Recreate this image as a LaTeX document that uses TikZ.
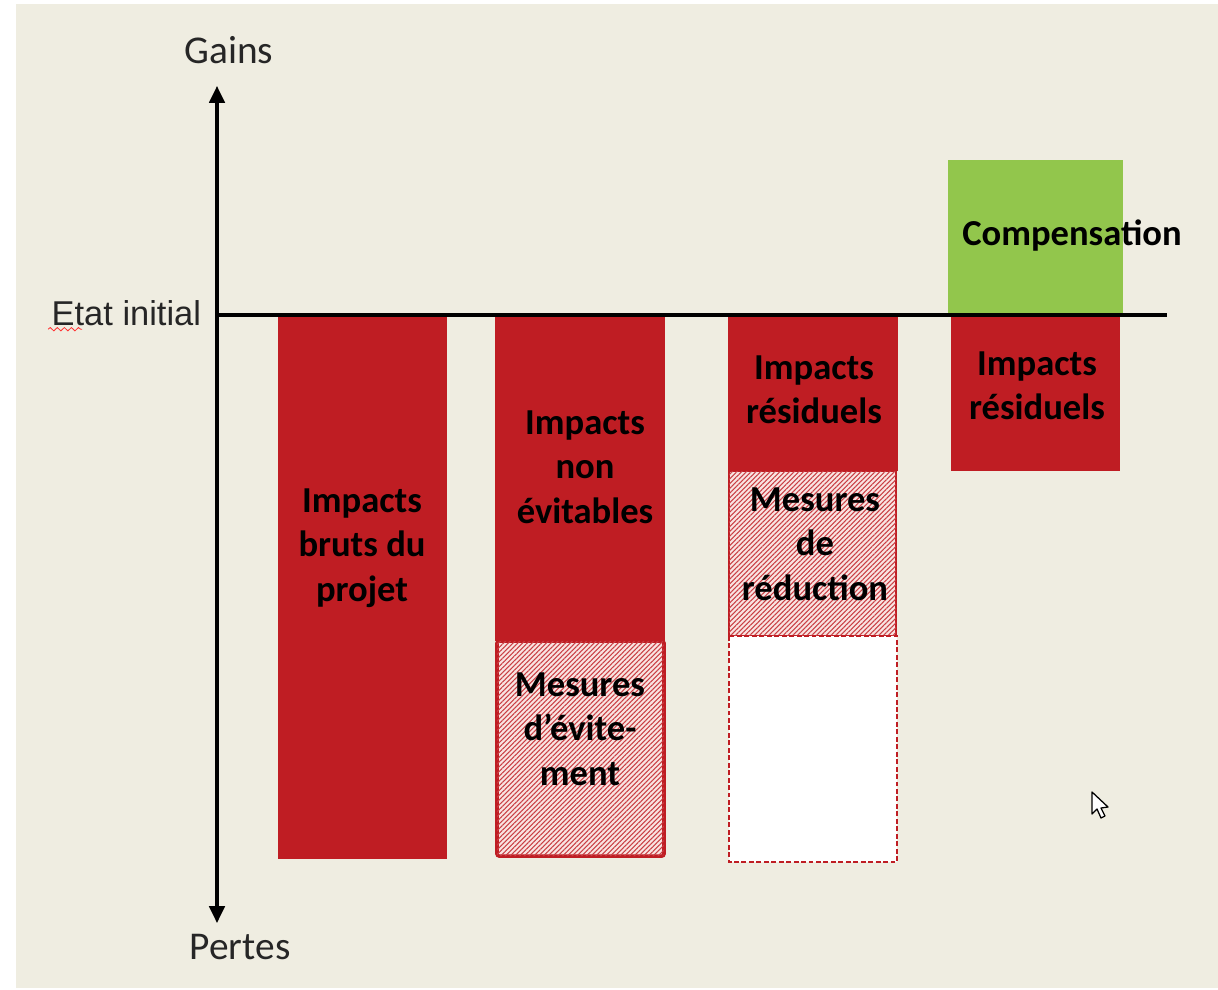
\documentclass[tikz,border=0pt]{standalone}
\usepackage{fontspec}
\setmainfont{Carlito}
\newfontfamily\arialfont{Liberation Sans}
\usepackage{xcolor}
\usetikzlibrary{arrows.meta,patterns.meta,decorations.pathmorphing}
\definecolor{paper}{HTML}{EFEDE1}
\definecolor{impactred}{HTML}{BF1D23}
\definecolor{hatchpink}{HTML}{F9E4E2}
\definecolor{compgreen}{HTML}{92C64C}

\begin{document}
\begin{tikzpicture}[x=0.025cm,y=-0.025cm,
  bar/.style={fill=impactred},
  hatched/.style={fill=hatchpink,
    postaction={pattern={Lines[angle=45,distance=2.4pt,line width=0.75pt]},
      pattern color=impactred!85}},
  lbl/.style={font=\fontsize{26}{31.5}\selectfont\bfseries,align=center,
    text=black,inner sep=0pt},
  axislbl/.style={font=\fontsize{28}{32}\selectfont,text=black!85}
]
\useasboundingbox (0,0) rectangle (1218,989);
\fill[paper] (16,4) rectangle (1218,988);

% axes
\coordinate (top) at (217,86);
\coordinate (bot) at (217,923);
\coordinate (zl) at (217,315);
\coordinate (zr) at (1167,315);
\draw[{Triangle[length=12pt,width=11pt]}-{Triangle[length=12pt,width=11pt]},line width=2.2pt]
  (bot) -- (top);
\node[axislbl] (gains) at (229,50) {Gains};
\node[axislbl] (pertes) at (240,947) {Pertes};
\node[font=\arialfont\fontsize{24.5}{28}\selectfont,text=black!85,anchor=east]
  (etat) at (206,313) {Etat initial};
\draw[red!80,line width=0.6pt,decorate,
  decoration={snake,amplitude=1.2pt,segment length=5pt}]
  ([xshift=1pt,yshift=1pt]etat.south west) -- ++(34,0);

% bruts
\fill[bar] (278,315) rectangle (447,859);
\node[lbl] (bruts) at (362,548) {Impacts\\bruts du\\projet};

% evitement
\fill[bar] (495,315) rectangle (665,641);
\draw[hatched,draw=impactred,line width=2.5pt,rounded corners=1.5pt]
  (497,641) rectangle (664,856);
\node[lbl] (nonevit) at (585,467) {Impacts\\non\\évitables};
\node[lbl] (evit) at (580,729) {Mesures\\d’évite-\\ment};

% reduction
\fill[bar] (728,316) rectangle (898,471);
\draw[hatched,draw=impactred,line width=1.5pt] (729,471) rectangle (896,636);
\draw[fill=white,draw=impactred,line width=1.6pt,dash pattern=on 3.5pt off 1.8pt]
  (729,636) rectangle (897,862);
\node[lbl] (resid1) at (814,390) {Impacts\\résiduels};
\node[lbl] (reduc) at (815,544) {Mesures\\de\\réduction};

% compensation
\fill[compgreen] (948,160) rectangle (1123,315);
\fill[bar] (951,315) rectangle (1120,471);
\node[lbl] (comp) at (1072,236) {Compensation};
\node[lbl] (resid2) at (1037,386) {Impacts\\résiduels};

\draw[line width=2.2pt] (zl) -- (zr);

% pointer
\draw[fill=white,line width=0.9pt,line join=round]
  (1092,792) -- (1092,814) -- (1097,809) -- (1101,818) -- (1105,816)
  -- (1101,808) -- (1108,807) -- cycle;
\end{tikzpicture}
\end{document}
